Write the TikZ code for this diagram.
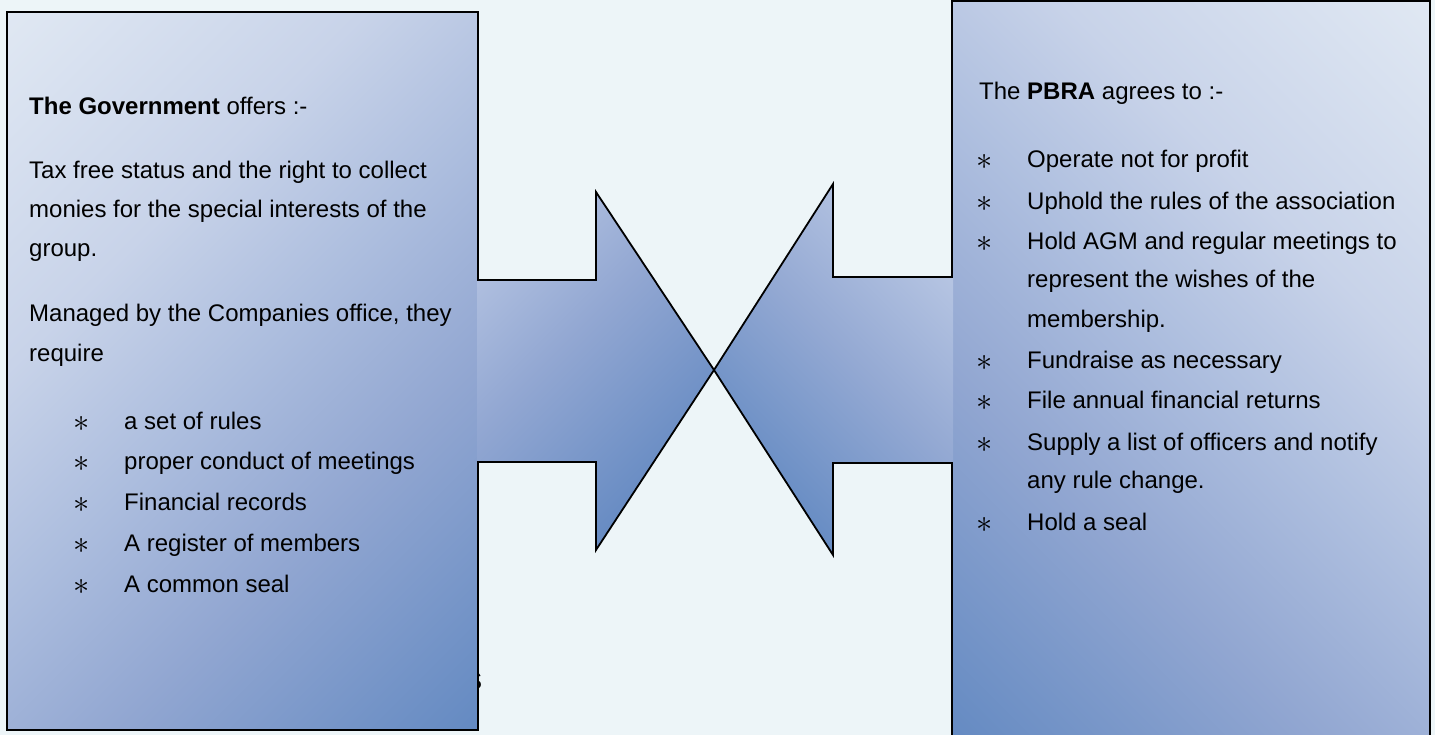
\documentclass[tikz,border=0pt]{standalone}
\usepackage{graphicx}
\usepackage{fontspec}
\setmainfont{Liberation Sans}
\definecolor{bg}{RGB}{237,245,248}
\definecolor{bA}{RGB}{224,232,243}
\definecolor{bB}{RGB}{200,211,233}
\definecolor{bC}{RGB}{172,189,222}
\definecolor{bD}{RGB}{145,166,209}
\definecolor{bE}{RGB}{100,138,194}
\definecolor{lA}{RGB}{195,207,232}
\definecolor{lB}{RGB}{146,167,210}
\definecolor{lC}{RGB}{98,136,193}
\definecolor{rA}{RGB}{192,205,231}
\definecolor{rB}{RGB}{148,169,211}
\definecolor{rC}{RGB}{104,141,196}
\definecolor{rD}{RGB}{100,138,194}
\pgfdeclareverticalshading{boxgrad}{100bp}{color(0bp)=(bE); color(25bp)=(bE); color(40bp)=(bD); color(50bp)=(bC); color(60bp)=(bB); color(75bp)=(bA); color(100bp)=(bA)}
\pgfdeclareverticalshading{larrgrad}{100bp}{color(0bp)=(lC); color(25bp)=(lC); color(50bp)=(lB); color(75bp)=(lA); color(100bp)=(lA)}
\pgfdeclareverticalshading{rarrgrad}{100bp}{color(0bp)=(rD); color(25bp)=(rD); color(32.5bp)=(rC); color(52.5bp)=(rB); color(75bp)=(rA); color(100bp)=(rA)}
\newcommand{\bulmark}{\scalebox{1.3}{$\ast$}}
\begin{document}
\begin{tikzpicture}[x=1pt,y=-1pt,
  txt/.style={anchor=base west,inner sep=0pt,font=\fontsize{24}{29}\selectfont},
  bul/.style={anchor=base,inner sep=0pt,font=\fontsize{24}{29}\selectfont},
  outline/.style={draw=black,line width=1.8pt,line join=miter}]
\clip (0,0) rectangle (1435,735);
\fill[bg] (0,0) rectangle (1435,735);
% stray glyph partly hidden behind the left box
\node[txt] (stray) at (466,689) {S};
% left box
\begin{scope}
\clip (7,12) rectangle (478,730);
\shade[shading=boxgrad,shading angle=45] (242.5-420.5,371-420.5) rectangle (242.5+420.5,371+420.5);
\end{scope}
% left arrow
\begin{scope}
\clip (477,280) -- (596,280) -- (596,192) -- (714,370) -- (596,550) -- (596,462) -- (477,462) -- cycle;
\shade[shading=larrgrad,shading angle=45] (539-184,371-184) rectangle (539+184,371+184);
\end{scope}
% right box
\begin{scope}
\clip (952,1) rectangle (1430,745);
\shade[shading=boxgrad,shading angle=-45] (1191-432,373-432) rectangle (1191+432,373+432);
\end{scope}
% right arrow
\begin{scope}
\clip (953,277) -- (833,277) -- (833,184) -- (714,370) -- (833,555) -- (833,463) -- (953,463) -- cycle;
\shade[shading=rarrgrad,shading angle=-45] (837-186,369.5-186) rectangle (837+186,369.5+186);
\end{scope}
% outlines
\draw[outline] (478,280) -- (478,12) -- (7,12) -- (7,730) -- (478,730) -- (478,462) -- (596,462) -- (596,550) -- (714,370) -- (596,192) -- (596,280) -- cycle;
\draw[outline] (952,277) -- (952,1) -- (1430,1) -- (1430,745) -- (952,745) -- (952,463) -- (833,463) -- (833,555) -- (714,370) -- (833,184) -- (833,277) -- cycle;
% left text
\node[txt] (g0) at (29,115) {\textbf{The Government} offers :-};
\node[txt] (g1) at (29,179) {Tax free status and the right to collect};
\node[txt] (g2) at (29,218) {monies for the special interests of the};
\node[txt] (g3) at (29,257) {group.};
\node[txt] (g4) at (29,322) {Managed by the Companies office, they};
\node[txt] (g5) at (29,361) {require};
\node[bul] (gb1) at (82,431) {\bulmark};
\node[txt] (gl1) at (124,429) {a set of rules};
\node[bul] (gb2) at (82,471) {\bulmark};
\node[txt] (gl2) at (124,469) {proper conduct of meetings};
\node[bul] (gb3) at (82,512) {\bulmark};
\node[txt] (gl3) at (124,510) {Financial records};
\node[bul] (gb4) at (82,553) {\bulmark};
\node[txt] (gl4) at (124,551) {A register of members};
\node[bul] (gb5) at (82,594) {\bulmark};
\node[txt] (gl5) at (124,592) {A common seal};
% right text
\node[txt] (p0) at (979,100) {The \textbf{PBRA} agrees to :-};
\node[bul] (pb1) at (985,170) {\bulmark};
\node[txt] (pl1) at (1027,168) {Operate not for profit};
\node[bul] (pb2) at (985,212) {\bulmark};
\node[txt] (pl2) at (1027,210) {Uphold the rules of the association};
\node[bul] (pb3) at (985,252) {\bulmark};
\node[txt] (pl3) at (1027,250) {Hold AGM and regular meetings to};
\node[txt] (pl3b) at (1027,288) {represent the wishes of the};
\node[txt] (pl3c) at (1027,327) {membership.};
\node[bul] (pb4) at (985,370) {\bulmark};
\node[txt] (pl4) at (1027,368) {Fundraise as necessary};
\node[bul] (pb5) at (985,410) {\bulmark};
\node[txt] (pl5) at (1027,408) {File annual financial returns};
\node[bul] (pb6) at (985,452) {\bulmark};
\node[txt] (pl6) at (1027,450) {Supply a list of officers and notify};
\node[txt] (pl6b) at (1027,488) {any rule change.};
\node[bul] (pb7) at (985,532) {\bulmark};
\node[txt] (pl7) at (1027,530) {Hold a seal};
\end{tikzpicture}
\end{document}
